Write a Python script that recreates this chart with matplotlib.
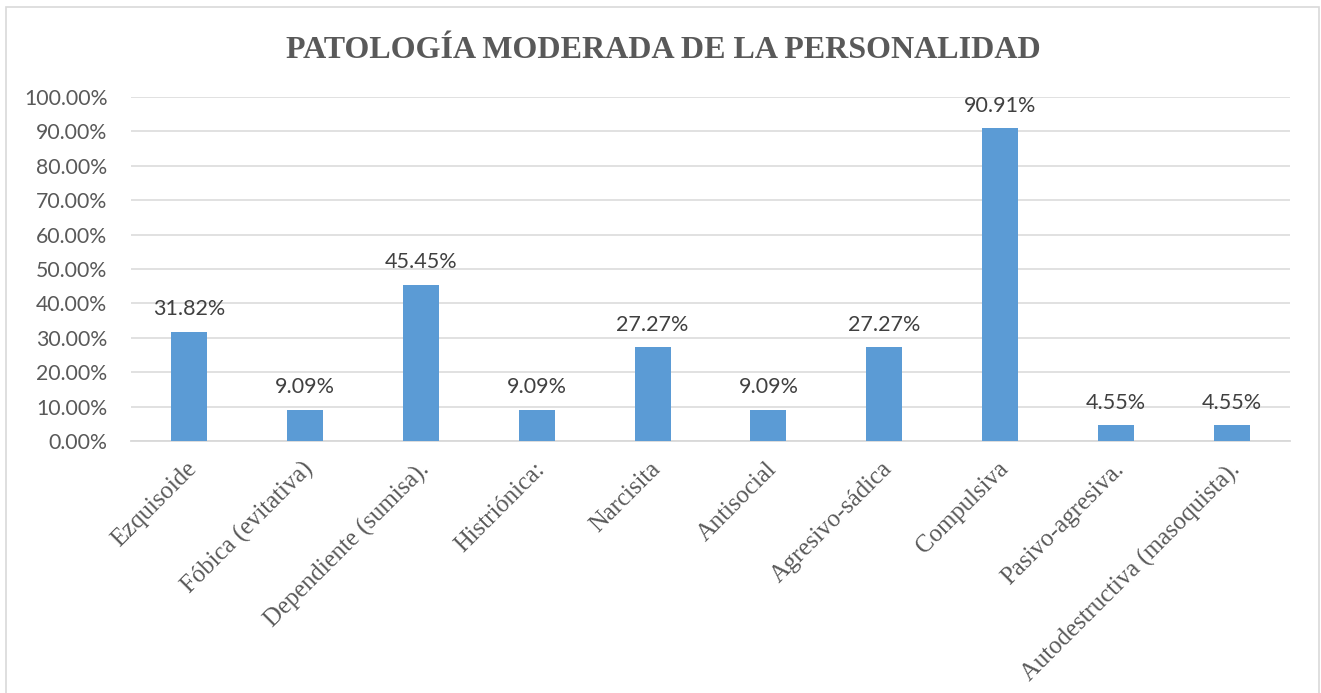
import numpy as np
import matplotlib.pyplot as plt
import matplotlib.transforms as mtransforms
from matplotlib.patches import Rectangle

categorias = ['Ezquisoide', 'Fóbica (evitativa)', 'Dependiente (sumisa).', 'Histriónica:',
              'Narcisita', 'Antisocial', 'Agresivo-sádica', 'Compulsiva',
              'Pasivo-agresiva.', 'Autodestructiva (masoquista).']
valores = [0.3182, 0.0909, 0.4545, 0.0909, 0.2727, 0.0909, 0.2727, 0.9091, 0.0455, 0.0455]
ticks_y = [0.0, 0.1, 0.2, 0.3, 0.4, 0.5, 0.6, 0.7, 0.8, 0.9, 1.0]

W, H = 1321, 693
fig = plt.figure(figsize=(W / 100, H / 100), dpi=100)

# marco gris del grafico
fig.patches.append(Rectangle((6 / W, -0.02), (1319 - 6) / W, (H - 7) / H + 0.02,
                             transform=fig.transFigure, fill=False,
                             edgecolor='#D9D9D9', lw=1.2))

ax = fig.add_axes([131 / W, 1 - 441 / H, (1290 - 131) / W, (441 - 97) / H])
x = np.arange(len(categorias))
ax.bar(x, valores, width=0.31, color='#5B9BD5', zorder=3)

ax.set_xlim(-0.5, len(categorias) - 0.5)
ax.set_ylim(0, 1)
ax.set_yticks(ticks_y)
ax.set_yticklabels(['%.2f%%' % (t * 100) for t in ticks_y], fontfamily='Lato',
                   fontsize=15.3, color='#595959')
ax.tick_params(axis='y', length=0, pad=17)
ax.grid(axis='y', color='#D9D9D9', lw=1.1, zorder=0)
for s in ['top', 'right', 'left']:
    ax.spines[s].set_visible(False)
ax.spines['bottom'].set_color('#D9D9D9')
ax.spines['bottom'].set_linewidth(1.3)

ax.set_xticks(x)
ax.set_xticklabels([])
ax.tick_params(axis='x', length=0)
offset = mtransforms.ScaledTranslation(-3 / 100, -17 / 100, fig.dpi_scale_trans)
for xi, cat in zip(x, categorias):
    ax.text(xi, 0, cat, transform=ax.get_xaxis_transform() + offset,
            rotation=45, rotation_mode='anchor', ha='right', va='top',
            fontfamily='Liberation Serif', fontsize=17.8, color='#595959')

for xi, v in zip(x, valores):
    ax.annotate('%.2f%%' % (v * 100), (xi, v), xytext=(0, 12), textcoords='offset points',
                ha='center', va='baseline', fontfamily='Lato', fontsize=15.5,
                color='#404040')

fig.text(663 / W, 1 - 58 / H, 'PATOLOGÍA MODERADA DE LA PERSONALIDAD',
         ha='center', va='baseline', fontfamily='Liberation Serif', fontweight='bold',
         fontsize=23, color='#595959')

fig.savefig('out.png', dpi=100)
